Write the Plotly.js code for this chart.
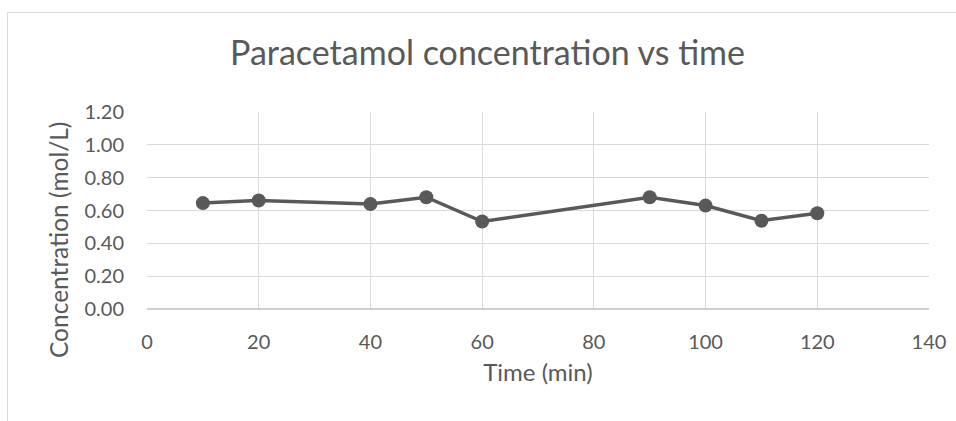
<!DOCTYPE html>
<html>
<head>
<meta charset="utf-8">
<script src="https://cdn.plot.ly/plotly-3.0.1.min.js"></script>
<style>
html,body{margin:0;padding:0;background:#fff;overflow:hidden;}
#frame{position:absolute;left:7px;top:12px;width:1000px;height:500px;border:1px solid #d9d9d9;}
#chart{position:absolute;left:0;top:0;width:956px;height:421px;}
</style>
</head>
<body>
<div id="frame"></div>
<div id="chart"></div>
<script>
const timeMin = [10, 20, 40, 50, 60, 90, 100, 110, 120];
const concentration = [0.645, 0.661, 0.639, 0.681, 0.533, 0.681, 0.630, 0.538, 0.583];
const xTicks = [0, 20, 40, 60, 80, 100, 120, 140];
const yTicks = [0, 0.2, 0.4, 0.6, 0.8, 1.0, 1.2];
const yTickLabels = ['0.00', '0.20', '0.40', '0.60', '0.80', '1.00', '1.20'];

const textColor = '#595959';
const gridColor = '#d9d9d9';
const fontFam = 'Lato, "Open Sans", sans-serif';

const trace = {
  x: timeMin,
  y: concentration,
  type: 'scatter',
  mode: 'lines+markers',
  line: {color: '#595959', width: 3.5},
  marker: {color: '#595959', size: 14},
  hoverinfo: 'x+y'
};

const layout = {
  width: 956,
  height: 421,
  paper_bgcolor: 'rgba(0,0,0,0)',
  plot_bgcolor: 'rgba(0,0,0,0)',
  margin: {l: 147, r: 27, t: 112, b: 112},
  showlegend: false,
  font: {family: fontFam, color: textColor},
  title: {
    text: 'Paracetamol concentration vs time',
    font: {family: fontFam, size: 34, color: textColor},
    x: 0.51, xref: 'container', xanchor: 'center',
    y: 1 - 53/421, yref: 'container', yanchor: 'middle'
  },
  xaxis: {
    range: [0, 140],
    tickvals: xTicks,
    ticktext: xTicks.map(String),
    showgrid: true, gridcolor: gridColor, gridwidth: 1,
    zeroline: false, showline: false,
    ticks: '',
    ticklabelstandoff: 19,
    tickfont: {family: fontFam, size: 20, color: textColor},
    title: {text: 'Time (min)', font: {family: fontFam, size: 24, color: textColor}, standoff: 12}
  },
  yaxis: {
    range: [0, 1.2],
    tickvals: yTicks,
    ticktext: yTickLabels,
    showgrid: true, gridcolor: gridColor, gridwidth: 1,
    zeroline: false, showline: false,
    ticks: '',
    ticklabelstandoff: 22,
    tickfont: {family: fontFam, size: 20, color: textColor}
  },
  shapes: [
    {type: 'line', xref: 'paper', yref: 'paper', x0: 0, x1: 1, y0: 0, y1: 0, line: {color: '#bfbfbf', width: 1.5}}
  ],
  annotations: [
    {
      text: 'Concentration (mol/L)',
      xref: 'paper', yref: 'paper',
      x: (58 - 147) / (956 - 147 - 27), xanchor: 'center',
      y: (421 - 112 - 240) / (421 - 224), yanchor: 'middle',
      textangle: -90, showarrow: false,
      font: {family: fontFam, size: 24.5, color: textColor}
    }
  ]
};

Plotly.newPlot('chart', [trace], layout, {displayModeBar: false, staticPlot: true});
</script>
</body>
</html>
